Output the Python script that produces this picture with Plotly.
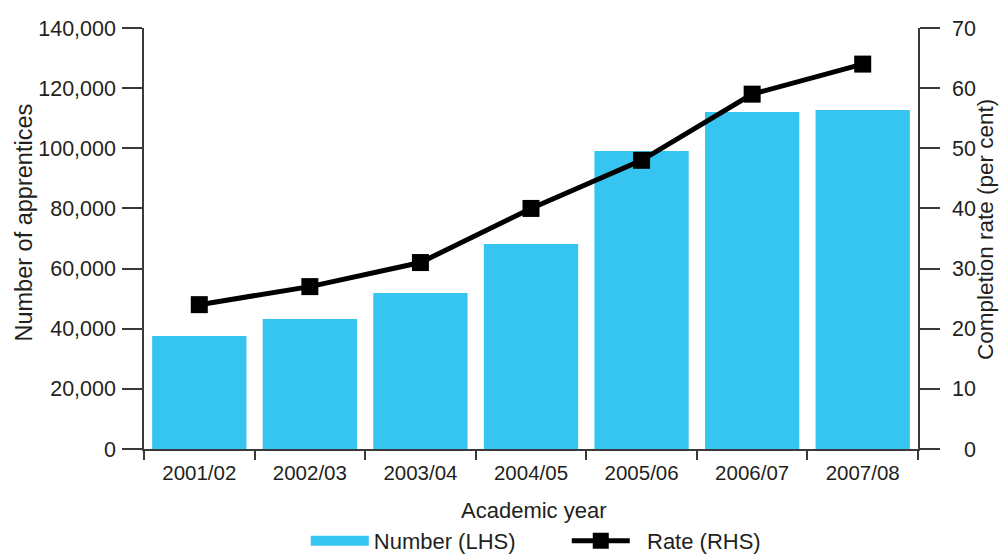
import plotly.graph_objects as go

# Apprenticeship numbers and completion rates by academic year
years = ["2001/02", "2002/03", "2003/04", "2004/05", "2005/06", "2006/07", "2007/08"]
apprentices = [37600, 43200, 51900, 68200, 99100, 112100, 112700]
completion_rate = [24, 27, 31, 40, 48, 59, 64]

left_ticks = [0, 20000, 40000, 60000, 80000, 100000, 120000, 140000]
right_ticks = [0, 10, 20, 30, 40, 50, 60, 70]
# right-aligned labels: pad single digits with a figure space
right_labels = [f"{v:\u2007>2}" for v in right_ticks]

FONT = "Liberation Sans"
TXT = "#231f20"
AX = "#3a3a3a"
BLUE = "#36C5F1"

fig = go.Figure()
fig.add_trace(go.Bar(
    x=years, y=apprentices, name="Number (LHS)",
    marker=dict(color=BLUE, line=dict(width=0)),
    yaxis="y", showlegend=False,
))
# wide blue swatch for the bar series' legend entry
fig.add_trace(go.Scatter(
    x=[None], y=[None], name="Number (LHS)", mode="lines",
    line=dict(color=BLUE, width=17), yaxis="y",
))
fig.add_trace(go.Scatter(
    x=years, y=completion_rate, name="\u00a0\u00a0Rate (RHS)",
    mode="lines+markers",
    line=dict(color="black", width=5),
    marker=dict(symbol="square", size=17, color="black"),
    yaxis="y2",
))

fig.update_layout(
    width=1000, height=554,
    margin=dict(l=144, r=82, t=28, b=105, autoexpand=False),
    paper_bgcolor="white", plot_bgcolor="white",
    font=dict(family=FONT, size=21, color=TXT),
    bargap=0.147,
    showlegend=True,
    legend=dict(
        orientation="h", x=0.209, xanchor="left", y=-0.2185, yanchor="middle",
        font=dict(size=22, color=TXT), itemwidth=58, traceorder="normal",
        entrywidth=188, entrywidthmode="pixels",
    ),
    xaxis=dict(
        showline=True, linecolor=AX, linewidth=1.5,
        ticks="outside", tickson="boundaries", ticklen=9, tickcolor=AX, tickwidth=1.5,
        tickfont=dict(size=20.5), ticklabelstandoff=5,
        showgrid=False, zeroline=False, automargin=False,
    ),
    yaxis=dict(
        range=[0, 140000], tickvals=left_ticks, tickformat=",",
        showline=True, linecolor=AX, linewidth=1.5,
        ticks="outside", ticklen=20, tickcolor=AX, tickwidth=1.5,
        ticklabelstandoff=2, tickfont=dict(size=21.5),
        showgrid=False, zeroline=False, automargin=False,
    ),
    yaxis2=dict(
        range=[0, 70], tickvals=right_ticks, ticktext=right_labels,
        overlaying="y", side="right",
        showline=True, linecolor=AX, linewidth=1.5,
        ticks="outside", ticklen=20, tickcolor=AX, tickwidth=1.5,
        ticklabelstandoff=8, tickfont=dict(size=21.5),
        showgrid=False, zeroline=False, automargin=False,
    ),
    annotations=[
        dict(text="Academic year", xref="paper", yref="paper", x=0.5035, y=-0.147,
             xanchor="center", yanchor="middle", showarrow=False, font=dict(size=22)),
        dict(text="Number of apprentices", xref="paper", yref="paper", x=-0.1563, y=0.538,
             xanchor="center", yanchor="middle", textangle=-90, showarrow=False,
             font=dict(size=23.5)),
        dict(text="Completion rate (per cent)", xref="paper", yref="paper", x=1.0866, y=0.520,
             xanchor="center", yanchor="middle", textangle=-90, showarrow=False,
             font=dict(size=22.5)),
    ],
)

fig.write_html("out.html")
